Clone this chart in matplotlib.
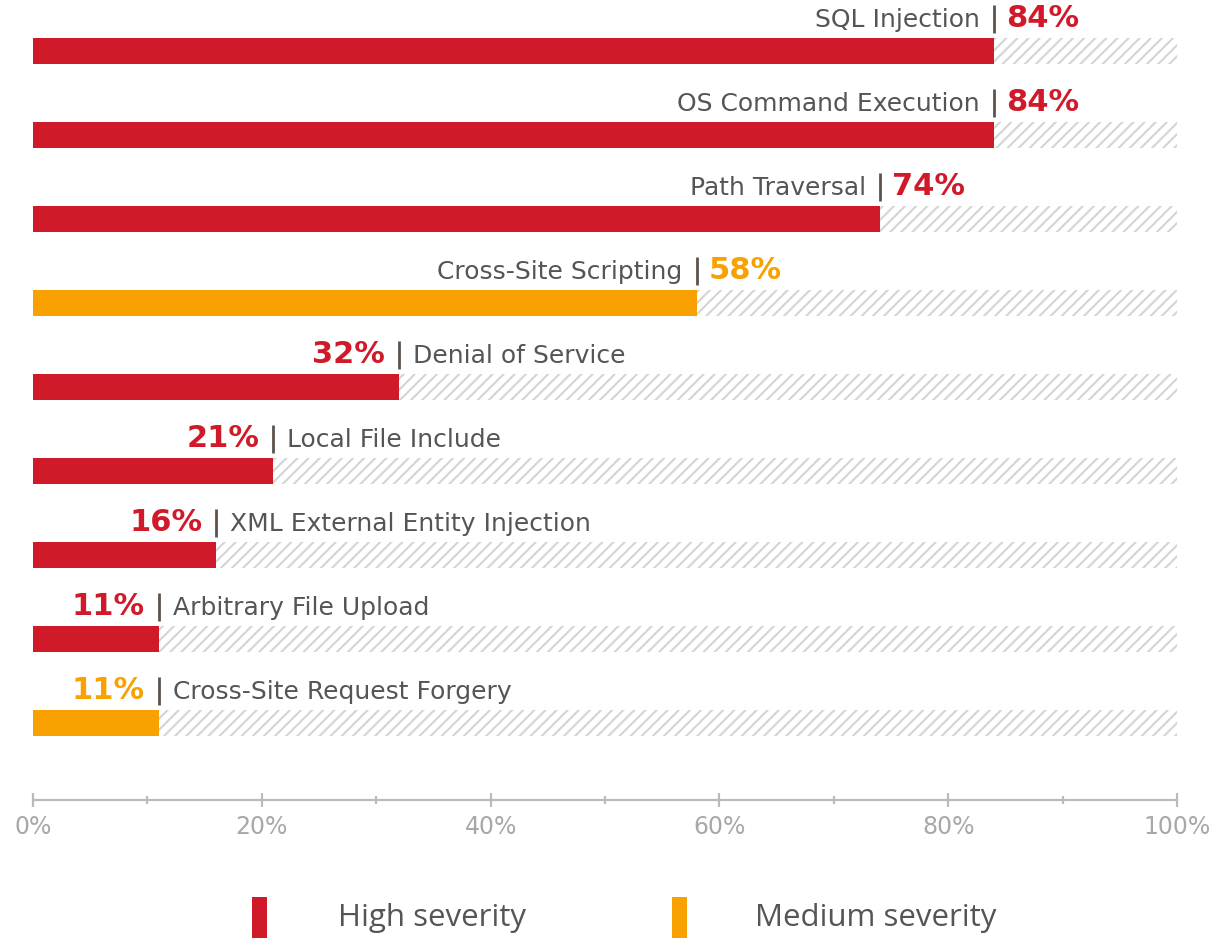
import numpy as np
import matplotlib
matplotlib.use('Agg')
import matplotlib.pyplot as plt
from matplotlib.patches import Rectangle

# datos
categorias = ['SQL Injection', 'OS Command Execution', 'Path Traversal',
              'Cross-Site Scripting', 'Denial of Service', 'Local File Include',
              'XML External Entity Injection', 'Arbitrary File Upload',
              'Cross-Site Request Forgery']
valores = [84, 84, 74, 58, 32, 21, 16, 11, 11]
severidad = ['High', 'High', 'High', 'Medium', 'High', 'High', 'High', 'High', 'Medium']
ticks = [0, 20, 40, 60, 80, 100]

ROJO = '#d01a2a'
NARANJA = '#f8a100'
colores = [ROJO if s == 'High' else NARANJA for s in severidad]

plt.rcParams['font.family'] = 'DejaVu Sans'
plt.rcParams['hatch.linewidth'] = 1.5

W, H = 1213, 938
fig = plt.figure(figsize=(W / 100, H / 100), dpi=100)
ax = fig.add_axes([33 / W, (H - 800) / H, 1144 / W, 800 / H])

y = np.arange(len(categorias))
v = np.array(valores)

# barras
ax.barh(y, v, height=0.31, color=colores, linewidth=0)
# resto rayado
ax.barh(y, 100 - v, left=v, height=0.31, facecolor='white',
        edgecolor='#d4d4d4', hatch='///', linewidth=0)

# etiquetas
for i, (nom, val, col) in enumerate(zip(categorias, valores, colores)):
    ax.plot([val, val], [i - 0.55, i - 0.21], color='#5d534b', lw=2.0,
            solid_capstyle='butt')
    if val > 50:
        ax.annotate(nom, (val, i - 0.37), xytext=(-10, 0), textcoords='offset points',
                    ha='right', va='center', fontsize=18, color='#555555')
        ax.annotate(str(val) + '%', (val, i - 0.37), xytext=(9, 1), textcoords='offset points',
                    ha='left', va='center', fontsize=22, color=col, fontweight='bold')
    else:
        ax.annotate(str(val) + '%', (val, i - 0.37), xytext=(-10, 1), textcoords='offset points',
                    ha='right', va='center', fontsize=22, color=col, fontweight='bold')
        ax.annotate(nom, (val, i - 0.37), xytext=(10, 0), textcoords='offset points',
                    ha='left', va='center', fontsize=18, color='#555555')

ax.set_xlim(0, 100)
ax.set_ylim((800 - 51) / 84, -51 / 84)

for s in ['left', 'right', 'top']:
    ax.spines[s].set_visible(False)
ax.spines['bottom'].set_color('#bbbbbb')
ax.spines['bottom'].set_linewidth(1.6)

ax.set_yticks([])
ax.set_xticks(ticks)
ax.set_xticklabels([str(t) + '%' for t in ticks])
ax.set_xticks(np.arange(10, 100, 20), minor=True)
ax.tick_params(axis='x', which='major', direction='inout', length=10, width=1.6,
               color='#bbbbbb', labelcolor='#a8a8a8', labelsize=17, pad=6)
ax.tick_params(axis='x', which='minor', direction='inout', length=6, width=1.6,
               color='#bbbbbb')

# leyenda
fig.add_artist(Rectangle((252 / W, 0), 15 / W, 41 / H, transform=fig.transFigure,
                         color=ROJO, lw=0))
fig.text(338 / W, (H - 918) / H, 'High severity', fontsize=22.5, color='#555555',
         va='center', ha='left', family='Open Sans')
fig.add_artist(Rectangle((672 / W, 0), 15 / W, 41 / H, transform=fig.transFigure,
                         color=NARANJA, lw=0))
fig.text(755 / W, (H - 918) / H, 'Medium severity', fontsize=22.5, color='#555555',
         va='center', ha='left', family='Open Sans')

fig.savefig('out.png', dpi=100)
